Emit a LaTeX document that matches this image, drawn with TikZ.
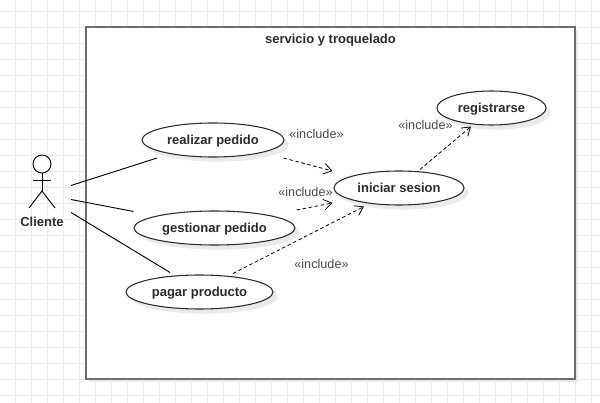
\documentclass[tikz,border=0pt]{standalone}
\usepackage{fontspec}
\setmainfont{Liberation Sans}
\usepackage{tikz}
\usetikzlibrary{arrows.meta,shapes.geometric,shadows}
\usepackage{xcolor}
\definecolor{gridgray}{HTML}{EBEBEB}
\definecolor{framegray}{HTML}{6E6E6E}
\definecolor{shadowgray}{HTML}{EAEAEA}
\definecolor{inkgray}{HTML}{2B2B2B}

\begin{document}
\begin{tikzpicture}[
    x=0.75pt, y=-0.75pt,
    softshadow/.style={general shadow={shadow xshift=3.5pt, shadow yshift=-3.5pt, draw=none, fill=shadowgray}},
    systembox/.style={draw=framegray, line width=1.5pt, fill=white, inner sep=0pt, minimum width=366.75pt, minimum height=264pt, general shadow={shadow xshift=2.25pt, shadow yshift=-2.25pt, draw=none, fill=shadowgray}},
    usecase/.style={ellipse, draw=inkgray, line width=0.8pt, fill=white, softshadow, inner sep=0pt, minimum height=25.5pt, text height=7.2pt, text depth=0.8pt, font=\bfseries\fontsize{9.75}{12}\selectfont, text=inkgray},
    titletext/.style={font=\bfseries\fontsize{9.75}{12}\selectfont, text=inkgray, inner sep=0pt},
    includetext/.style={font=\fontsize{9.5}{11}\selectfont, text=inkgray!85, inner sep=0pt},
    assoc/.style={draw=black, line width=0.7pt},
    includes/.style={draw=black, line width=0.6pt, dash pattern=on 2.6pt off 2pt, -{Straight Barb[length=6pt,width=8pt,line width=0.6pt]}}
  ]
    \useasboundingbox (0,0) rectangle (600,403);
    \fill[white] (0,0) rectangle (600,403);
    \foreach \gx in {15,31,...,591} \draw[gridgray, line width=0.6pt] (\gx,0) -- (\gx,403);
    \foreach \gy in {11,27,...,395} \draw[gridgray, line width=0.6pt] (0,\gy) -- (600,\gy);

    \node[systembox] (sistema) at (330.5,203) {};
    \node[titletext] (titulo) at (330.5,40) {servicio y troquelado};

    % actor
    \node[circle, draw=black, line width=0.7pt, fill=white, inner sep=0pt, minimum size=13.5pt] (cabeza) at (42,164) {};
    \node[titletext] (cliente) at (42,221.5) {Cliente};
    \coordinate (cadera) at (42,191);
    \draw[assoc] (cabeza) -- (cadera);
    \draw[assoc] ([shift={(-9,7)}]cabeza.south) -- ([shift={(9,7)}]cabeza.south);
    \draw[assoc] (cadera) -- ([shift={(-13,17)}]cadera);
    \draw[assoc] (cadera) -- ([shift={(13,17)}]cadera);

    \node[usecase, minimum width=106.5pt] (realizar) at (213,140) {realizar pedido};
    \node[usecase, minimum width=120.75pt] (gestionar) at (214.5,228) {gestionar pedido};
    \node[usecase, minimum width=110.25pt] (pagar) at (199.5,292) {pagar producto};
    \node[usecase, minimum width=97.5pt] (iniciar) at (399,188) {iniciar sesion};
    \node[usecase, minimum width=81.75pt] (registrarse) at (491.5,108) {registrarse};

    \draw[assoc] ([shift={(29,-36)}]cliente.center) -- ([shift={(-56,0.5)}]realizar.south);
    \draw[assoc] ([shift={(29,-22)}]cliente.center) -- ([shift={(-81,1)}]gestionar.north);
    \draw[assoc] ([shift={(29,-9)}]cliente.center) -- ([shift={(-29.5,-2)}]pagar.north);

    \draw[includes] ([shift={(-1,18)}]realizar.east) -- ([shift={(-1,-17)}]iniciar.west);
    \draw[includes] ([shift={(1,-18)}]gestionar.east) -- ([shift={(-1,15)}]iniciar.west);
    \draw[includes] ([shift={(33.5,-1)}]pagar.north) -- ([shift={(-35,1)}]iniciar.south);
    \draw[includes] ([shift={(21,-1)}]iniciar.north) -- ([shift={(-20.5,1)}]registrarse.south);

    \node[includetext] (inc1) at (316.5,134) {«include»};
    \node[includetext] (inc2) at (305.5,192) {«include»};
    \node[includetext] (inc3) at (321.5,264) {«include»};
    \node[includetext] (inc4) at (425.5,125) {«include»};
  \end{tikzpicture}
\end{document}
